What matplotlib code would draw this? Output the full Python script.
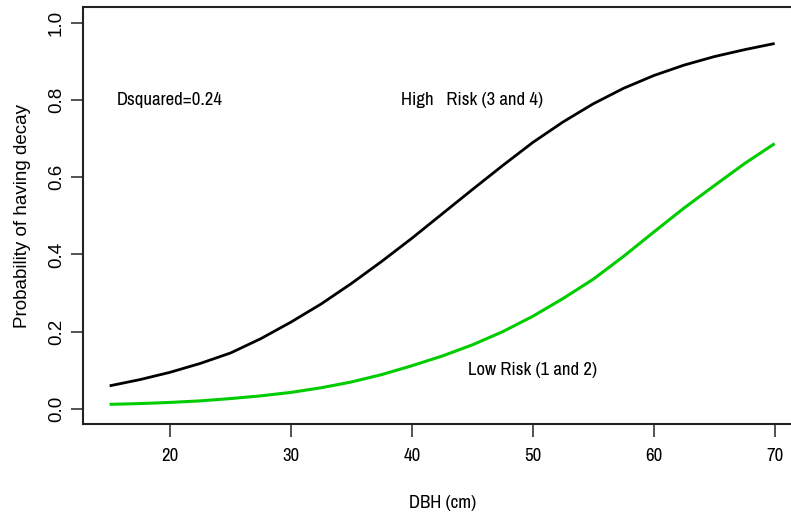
import matplotlib
matplotlib.use("Agg")
import matplotlib.pyplot as plt
from matplotlib import font_manager

# DBH (cm) and fitted probability of decay
dbh = [15, 17.5, 20, 22.5, 25, 27.5, 30, 32.5, 35, 37.5, 40, 42.5,
       45, 47.5, 50, 52.5, 55, 57.5, 60, 62.5, 65, 67.5, 70]
high_risk = [0.060, 0.076, 0.095, 0.118, 0.145, 0.182, 0.225, 0.272,
             0.325, 0.382, 0.442, 0.505, 0.568, 0.630, 0.690, 0.743,
             0.790, 0.830, 0.863, 0.890, 0.912, 0.930, 0.946]
low_risk = [0.012, 0.014, 0.017, 0.021, 0.027, 0.034, 0.043, 0.055,
            0.070, 0.089, 0.112, 0.137, 0.166, 0.200, 0.240, 0.286,
            0.336, 0.395, 0.458, 0.520, 0.578, 0.635, 0.687]

x_ticks = [20, 30, 40, 50, 60, 70]
y_ticks = [0.0, 0.2, 0.4, 0.6, 0.8, 1.0]

installed = {f.name for f in font_manager.fontManager.ttflist}
wide = "Liberation Sans" if "Liberation Sans" in installed else "DejaVu Sans"
narrow = wide
for cand in ["Liberation Sans Narrow", "Arial Narrow", "Archivo Narrow",
             "PT Sans Narrow", "Roboto Condensed", "Pragati Narrow"]:
    if cand in installed:
        narrow = cand
        break

fs = 13.5
fig = plt.figure(figsize=(7.91, 5.12), dpi=100)
ax = fig.add_axes([0.105, 0.171, 0.908, 0.815])

ax.plot(dbh, high_risk, color="black", lw=2.0, solid_capstyle="butt")
ax.plot(dbh, low_risk, color="#00cc00", lw=2.2, solid_capstyle="butt")

ax.set_xlim(12.8, 72.2)
ax.set_ylim(-0.04, 1.04)

ax.set_xticks(x_ticks)
ax.set_xticklabels([str(t) for t in x_ticks], family=narrow, fontsize=fs)
ax.set_yticks(y_ticks)
ax.set_yticklabels([f"{t:.1f}" for t in y_ticks], family=wide, fontsize=fs,
                   rotation=90, va="center")
ax.tick_params(axis="both", length=9, width=1.3, color="#444444", pad=8)
ax.tick_params(axis="y", pad=4)

for s in ax.spines.values():
    s.set_linewidth(1.5)
    s.set_color("#222222")

ax.set_xlabel("DBH (cm)", family=narrow, fontsize=fs, labelpad=22)
ax.set_ylabel("Probability of having decay", family=wide, fontsize=fs,
              labelpad=12)

ax.text(20, 0.8, "Dsquared=0.24", family=narrow, fontsize=fs,
        ha="center", va="center")
ax.text(45, 0.8, "High   Risk (3 and 4)", family=narrow, fontsize=fs,
        ha="center", va="center")
ax.text(50, 0.1, "Low Risk (1 and 2)", family=narrow, fontsize=fs,
        ha="center", va="center")

fig.savefig("out.png", dpi=100)
